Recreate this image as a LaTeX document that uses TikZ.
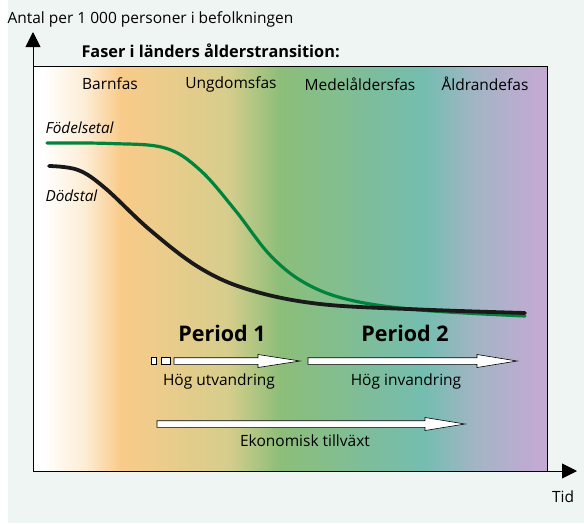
\documentclass[tikz,border=0pt]{standalone}
\usepackage{fontspec}
\setmainfont{Open Sans}
\usetikzlibrary{arrows.meta}
\definecolor{bgmint}{HTML}{EFF5F3}
\definecolor{fasorange}{HTML}{F9CB8A}
\definecolor{fasolive}{HTML}{D6CD8C}
\definecolor{fasgreen}{HTML}{8DBE79}
\definecolor{fasteal}{HTML}{74BDB0}
\definecolor{fasblue}{HTML}{A2B5C4}
\definecolor{faspurple}{HTML}{C2AAD3}
\definecolor{birthgreen}{HTML}{00843D}
\pgfdeclarehorizontalshading{fasshade}{100bp}{%
  color(0bp)=(white); color(26bp)=(white); color(30bp)=(fasorange!35!white);
  color(33.5bp)=(fasorange); color(44bp)=(fasolive); color(49bp)=(fasgreen);
  color(63bp)=(fasteal); color(68bp)=(fasblue); color(74bp)=(faspurple);
  color(100bp)=(faspurple)}
\newcommand{\blockarr}[4]{% start, head start, tip, y
  \draw[fill=white,line width=.6pt] (#1,{#4-3.3}) -- (#2,{#4-3.3}) -- (#2,{#4-6.5}) -- (#3,#4)
    -- (#2,{#4+6.5}) -- (#2,{#4+3.3}) -- (#1,{#4+3.3}) -- cycle;}
\tikzset{
  fastext/.style={font=\fontsize{15.5}{17}\selectfont},
  kurvtext/.style={font=\fontsize{15.3}{17}\selectfont\itshape,anchor=west},
  periodtext/.style={font=\fontsize{21.5}{24}\selectfont\bfseries}
}
\begin{document}
\begin{tikzpicture}[x=1pt,y=-1pt,>={Triangle[length=15pt,width=15pt]}]
        \useasboundingbox (0,0) rectangle (584,523);
        \fill[bgmint] (8,0) rectangle (584,523);
        \shade[shading=fasshade] (33,66) rectangle (547,471);
        \draw[line width=.7pt] (33,66)--(547,66)--(547,471);
        \draw[->,line width=.9pt](33,471)--(577,471);
        \draw[->,line width=.9pt](33,471)--(33,32);
        \node[fastext,anchor=west] (ylabel) at (4,19) {Antal per 1 000 personer i befolkningen};
        \node[fastext] (tid) at (563,497) {Tid};
        \node[fastext,font=\fontsize{16.3}{18}\selectfont\bfseries,anchor=west] (rubrik) at (78,51) {Faser i länders ålderstransition:};
        \node[fastext] (barnfas) at (110,84) {Barnfas};
        \node[fastext] (ungdom) at (231,84) {Ungdomsfas};
        \node[fastext] (medel) at (360,84) {Medelåldersfas};
        \node[fastext] (aldrande) at (485,84) {Åldrandefas};
        \node[kurvtext] (fodtext) at (42,128) {Födelsetal};
        \node[kurvtext] (dodtext) at (42,196) {Dödstal};
        \draw[birthgreen,line width=3.2pt,line cap=round] plot[smooth,tension=.6] coordinates
            {(47,143) (110,143.5) (165,148) (200,170) (235,210) (270,255) (305,283) (350,300) (420,310) (525,316)};
        \draw[black!90,line width=3.8pt,line cap=round] plot[smooth,tension=.6] coordinates
            {(49,166) (78,170) (105,188) (150,230) (200,268) (250,290) (320,304) (420,309.5) (525,313)};
        \node[periodtext] (per1) at (222,333) {Period 1};
        \node[periodtext] (per2) at (405,333) {Period 2};
        \draw[fill=white,line width=.6pt] (151,357.7) rectangle (156,364.3);
        \draw[fill=white,line width=.6pt] (161,357.7) rectangle (170,364.3);
        \blockarr{174}{258}{300}{361}
        \blockarr{308}{477}{517}{361}
        \blockarr{157}{425}{465}{424}
        \node[fastext] (utv) at (219,381) {Hög utvandring};
        \node[fastext] (inv) at (406,381) {Hög invandring};
        \node[fastext] (ekon) at (305,441) {Ekonomisk tillväxt};
\end{tikzpicture}
\end{document}
